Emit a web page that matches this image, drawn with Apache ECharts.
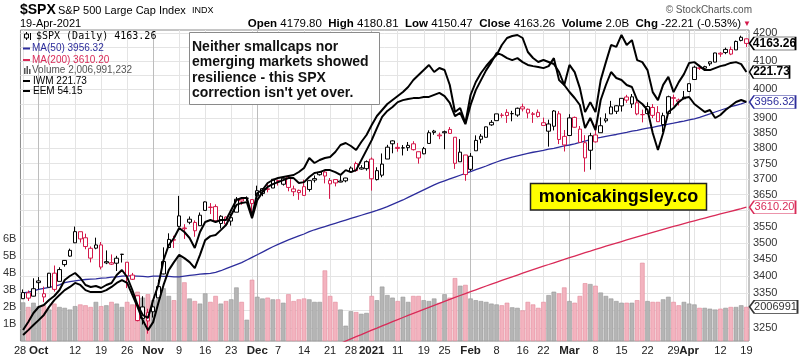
<!DOCTYPE html>
<html><head><meta charset="utf-8">
<script src="https://cdn.jsdelivr.net/npm/echarts@6/dist/echarts.min.js"></script>
<style>html,body{margin:0;padding:0;background:#fff}#c{width:803px;height:358px}</style>
</head><body><div id="c"></div>
<script>
// ---------- DATA ----------
const monthDays = [
 ['2020-09',[28,29,30]],
 ['2020-10',[1,2,5,6,7,8,9,12,13,14,15,16,19,20,21,22,23,26,27,28,29,30]],
 ['2020-11',[2,3,4,5,6,9,10,11,12,13,16,17,18,19,20,23,24,25,27,30]],
 ['2020-12',[1,2,3,4,7,8,9,10,11,14,15,16,17,18,21,22,23,24,28,29,30,31]],
 ['2021-01',[4,5,6,7,8,11,12,13,14,15,19,20,21,22,25,26,27,28,29]],
 ['2021-02',[1,2,3,4,5,8,9,10,11,12,16,17,18,19,22,23,24,25,26]],
 ['2021-03',[1,2,3,4,5,8,9,10,11,12,15,16,17,18,19,22,23,24,25,26,29,30,31]],
 ['2021-04',[1,5,6,7,8,9,12,13,14,15,16,19]]
];
const opens = [3333.90,3350.92,3341.21,3385.87,3338.94,3367.27,3408.74,3384.56,3434.28,3459.67,
3500.02,3534.01,3515.47,3453.72,3493.50,3493.66,3439.38,3439.91,3438.50,3464.90,
3441.42,3403.15,3342.48,3277.17,3293.59,
3296.20,3336.25,3406.46,3485.74,3508.34,3583.04,3543.26,3563.22,3562.67,3552.57,
3600.16,3610.31,3612.09,3559.41,3579.31,3566.82,3594.52,3635.50,3638.55,3634.18,
3645.87,3653.78,3668.28,3670.94,3694.73,3683.05,3705.98,3659.13,3656.08,3675.27,
3666.41,3696.25,3713.65,3722.39,3684.28,3698.08,3693.42,3694.03,3723.03,3750.01,
3736.19,3733.27,
3764.61,3698.02,3712.20,3764.71,3815.05,3803.14,3801.62,3802.23,3814.98,3788.73,
3781.88,3816.22,3857.46,3844.24,3851.68,3862.96,3836.83,3755.75,3778.05,
3731.17,3791.84,3840.27,3836.66,3878.30,3892.59,3910.49,3920.78,3916.40,3911.65,
3939.61,3918.50,3915.86,3921.16,3885.55,3857.07,3873.71,3915.80,3839.66,
3842.51,3903.64,3863.99,3818.53,3793.58,3844.39,3851.93,3891.99,3915.54,3924.52,
3942.96,3973.59,3949.57,3953.50,3913.14,3916.48,3937.60,3919.93,3879.34,3917.12,
3969.31,3963.34,3967.25,
3992.78,4034.44,4075.57,4074.29,4089.95,4096.11,4124.71,4130.10,4141.58,4139.76,4174.14,4179.80];
const highs = [3360.74,3357.92,3393.56,3397.18,3369.10,3409.57,3431.56,3426.26,3447.28,3482.34,
3549.85,3534.01,3527.94,3489.08,3515.76,3502.42,3476.93,3464.86,3460.53,3466.46,
3441.42,3409.51,3342.48,3341.05,3304.93,
3330.14,3389.49,3486.25,3529.05,3521.58,3645.99,3557.22,3581.16,3569.02,3593.66,
3628.51,3623.11,3619.09,3585.22,3581.23,3589.81,3642.31,3635.50,3644.31,3634.18,
3678.45,3670.96,3682.73,3699.20,3697.41,3708.45,3712.39,3678.49,3665.91,3697.61,
3695.29,3711.27,3725.12,3726.70,3702.90,3698.26,3711.24,3703.82,3740.51,3756.12,
3744.63,3760.20,
3769.99,3737.83,3783.04,3811.55,3826.69,3817.86,3810.78,3820.96,3823.60,3788.73,
3804.53,3859.75,3861.45,3852.31,3859.23,3870.90,3836.83,3830.50,3778.05,
3784.32,3843.09,3847.51,3872.42,3894.56,3915.77,3918.35,3931.50,3925.99,3937.23,
3950.43,3933.61,3921.98,3930.41,3902.92,3895.98,3928.65,3925.02,3861.08,
3914.50,3906.41,3874.47,3843.67,3851.69,3881.06,3903.76,3917.35,3960.27,3944.99,
3970.08,3981.04,3983.87,3969.62,3930.12,3955.31,3949.13,3942.08,3919.54,3978.19,
3981.83,3968.01,3994.41,
4020.63,4083.42,4086.23,4083.13,4098.19,4129.48,4131.76,4148.00,4151.69,4173.49,4191.31,4180.81];
const lows = [3332.91,3327.54,3340.47,3361.39,3323.69,3367.27,3354.54,3384.56,3428.15,3458.07,
3499.61,3500.86,3480.55,3440.89,3480.45,3419.93,3435.65,3433.06,3415.34,3440.45,
3364.86,3388.71,3268.89,3259.82,3233.94,
3279.74,3336.25,3405.17,3485.74,3484.34,3547.48,3511.91,3557.00,3518.58,3552.57,
3600.16,3588.68,3567.33,3543.84,3556.85,3552.77,3594.52,3617.76,3629.33,3594.39,
3645.87,3644.84,3657.17,3670.94,3678.88,3678.83,3660.54,3645.18,3633.40,3645.84,
3659.62,3688.57,3710.87,3685.84,3636.48,3676.16,3689.28,3689.32,3723.03,3723.31,
3730.21,3726.88,
3662.71,3695.07,3705.34,3764.71,3783.60,3789.02,3776.51,3791.50,3792.86,3749.62,
3780.37,3816.22,3845.05,3830.41,3797.16,3847.78,3732.48,3755.75,3694.12,
3725.62,3791.84,3816.68,3836.66,3874.93,3892.59,3902.64,3884.94,3890.39,3905.78,
3923.85,3900.43,3885.03,3903.07,3874.71,3805.59,3859.60,3814.04,3789.54,
3842.51,3868.57,3818.86,3723.34,3730.19,3819.25,3851.93,3885.73,3915.54,3915.21,
3923.54,3953.44,3935.74,3910.86,3886.75,3914.16,3901.57,3889.07,3853.50,3917.12,
3943.25,3944.35,3966.98,
3992.78,4034.44,4068.14,4068.31,4082.54,4095.51,4114.82,4124.43,4120.87,4139.76,4170.75,4150.47];
const closes = [3351.60,3335.47,3363.00,3380.80,3348.42,3408.60,3360.97,3419.44,3446.83,3477.14,
3534.22,3511.93,3488.67,3483.34,3483.81,3426.92,3443.12,3435.56,3453.49,3465.39,
3400.97,3390.68,3271.03,3310.11,3269.96,
3310.24,3369.16,3443.44,3510.45,3509.44,3550.50,3545.53,3572.66,3537.01,3585.15,
3626.91,3609.53,3567.79,3581.87,3557.54,3577.59,3635.41,3629.65,3638.35,3621.63,
3662.45,3669.01,3666.72,3699.12,3691.96,3702.25,3672.82,3668.10,3663.46,3647.49,
3694.62,3701.17,3722.48,3709.41,3694.92,3687.26,3690.01,3703.06,3735.36,3727.04,
3732.04,3756.07,
3700.65,3726.86,3748.14,3803.79,3824.68,3799.61,3801.19,3809.84,3795.54,3768.25,
3798.91,3851.85,3853.07,3841.47,3855.36,3849.62,3750.77,3787.38,3714.24,
3773.86,3826.31,3830.17,3871.74,3886.83,3915.59,3911.23,3909.88,3916.38,3934.83,
3932.59,3931.33,3913.97,3906.71,3876.50,3881.37,3925.43,3829.34,3811.15,
3901.82,3870.29,3819.72,3768.47,3841.94,3821.35,3875.44,3898.81,3939.34,3943.34,
3968.94,3962.71,3974.12,3915.46,3913.10,3940.59,3910.52,3889.14,3909.52,3974.54,
3971.09,3958.55,3972.89,
4019.87,4077.91,4073.94,4079.95,4097.17,4128.80,4127.99,4141.59,4124.66,4170.42,4185.47,4163.26];
// volume in billions of shares
const volumeB = [2.27,2.0,2.25,2.05,2.1,1.85,2.2,2.0,1.95,1.85,
2.05,2.15,2.1,2.0,2.3,2.05,2.1,2.3,2.2,2.0,
2.3,2.15,2.9,2.55,2.75,
2.4,2.5,3.1,2.65,2.4,5.0,3.45,2.5,2.35,2.2,
2.8,2.3,2.65,2.2,2.35,2.45,3.15,2.3,1.25,3.6,
2.6,2.5,2.55,2.45,2.45,2.25,2.75,2.35,2.45,2.5,
2.45,2.3,2.3,4.15,2.65,2.3,1.85,0.9,1.75,1.7,
1.6,1.65,
2.65,2.4,3.2,2.7,2.55,2.35,2.6,2.3,2.65,2.65,
2.4,2.35,2.5,2.25,2.75,2.55,3.7,3.25,3.3,
2.5,2.4,2.35,2.3,2.2,2.15,2.1,2.25,1.98,1.95,
1.8,2.3,2.15,1.95,2.3,2.7,2.9,2.8,3.15,
2.35,2.25,2.65,3.4,3.35,3.25,2.85,2.65,2.5,2.35,
2.25,2.25,2.25,2.4,4.6,2.35,2.3,2.3,2.45,2.6,
2.3,2.1,2.3,
2.2,2.15,1.95,1.95,1.9,1.85,1.9,1.95,2.0,2.0,2.1,2.006991232];
const ma50 = [3351,3353,3357,3361,3364,3367,3370,3374,3381,3384,
3386,3388,3390,3391,3392,3394,3395,3397,3398,3400,
3401,3401,3400,3399,3398,3400,3400,3399,3399,3398,
3398,3400,3402,3404,3406,3407,3408,3411,3416,3422,
3428,3434,3440,3448,3456,3464,3472,3480,3488,3495,
3502,3509,3515,3521,3527,3534,3540,3545,3550,3555,
3560,3565,3570,3575,3580,3585,3590,3595,3600,3606,
3612,3619,3626,3633,3641,3649,3657,3665,3673,3681,
3688,3694,3700,3706,3712,3718,3724,3730,3736,3742,
3749,3755,3761,3766,3771,3775,3779,3783,3787,3790,
3793,3797,3800,3804,3808,3811,3815,3820,3824,3829,
3833,3836,3840,3843,3846,3850,3853,3857,3860,3864,
3867,3870,3874,3877,3881,3884,3888,3891,3895,3899,
3904,3910,3916,3922,3928,3934,3940,3945,3950,3956.32];
const ma200 = [null,null,null,null,null,null,null,null,null,null,
null,null,null,null,null,null,null,null,null,null,
null,null,null,null,null,null,null,null,null,null,
null,null,null,null,null,null,null,null,null,null,
null,null,null,null,null,null,null,null,null,null,
null,null,null,null,null,null,null,null,null,null,
3200.5,3206.8,3213.0,3219.2,3225.4,3231.5,3237.7,3243.8,3249.8,3255.9,
3261.9,3267.9,3273.9,3279.8,3285.7,3291.6,3297.4,3303.2,3309.0,3314.8,
3320.5,3326.3,3331.9,3337.6,3343.2,3348.8,3354.3,3359.9,3365.4,3370.9,
3376.4,3381.9,3387.3,3392.7,3398.1,3403.3,3408.6,3413.9,3419.1,3424.3,
3429.5,3434.6,3439.8,3444.9,3450.0,3455.0,3460.0,3465.0,3470.0,3474.9,
3479.9,3484.7,3489.6,3494.4,3499.2,3504.0,3508.7,3513.4,3518.1,3522.8,
3527.4,3532.0,3536.6,3541.1,3545.6,3550.1,3554.5,3558.9,3563.3,3567.7,
3572.0,3576.3,3580.6,3584.8,3589.0,3593.2,3597.3,3601.4,3605.5,3610.20];
// overlays, in the units of their own (hidden) overlay scales
const iwm = [156.0,157.2,158.5,159.7,161.0,163.0,164.7,166.0,167.2,168.0,
169.0,168.5,167.2,166.7,166.7,166.7,167.2,168.0,169.0,169.7,
169.0,166.0,163.0,159.7,157.2,
159.2,164.0,168.5,172.2,174.2,176.0,175.2,174.2,172.7,176.0,
179.7,180.7,181.0,182.2,183.5,186.0,188.5,189.0,189.2,185.2,
189.7,191.7,193.0,193.7,194.2,194.7,195.2,195.2,194.0,194.2,
195.5,196.5,196.7,197.2,197.2,196.7,196.0,197.2,196.7,197.2,
199.7,202.2,
204.7,207.7,210.5,212.0,213.0,214.2,214.7,215.0,215.2,215.2,
215.5,215.5,216.0,216.5,215.7,214.0,210.7,211.5,208.7,
213.5,217.2,219.7,222.2,224.2,226.5,226.0,225.2,224.7,225.2,
224.2,223.5,223.2,223.0,222.7,223.2,225.2,219.7,218.5,
223.5,221.7,217.7,211.7,214.2,211.7,219.7,224.2,228.5,228.0,
231.0,228.5,229.7,224.7,224.2,222.2,216.7,214.7,218.5,220.5,
216.7,219.2,221.2,
224.0,224.2,223.2,222.2,222.2,222.7,223.2,223.5,224.0,224.2,223.7,221.73];
const eem = [42.75,43.15,43.6,43.9,44.0,44.25,44.45,44.75,45.25,45.45,
45.6,45.35,45.0,44.9,44.95,44.85,45.0,45.1,45.5,45.75,
45.4,44.75,44.0,43.5,43.35,
44.25,45.0,46.25,47.0,47.35,47.85,47.65,47.35,46.85,47.65,
48.15,48.25,48.15,48.25,48.25,48.75,49.25,49.35,49.35,48.45,
49.6,49.75,50.1,50.25,50.35,50.4,50.45,50.5,50.65,50.85,
51.35,51.1,51.25,51.35,51.4,51.65,52.0,52.1,51.95,51.75,
52.15,52.5,
53.0,53.45,53.75,54.05,54.25,54.45,54.65,54.9,55.25,55.5,
55.75,56.0,55.65,55.85,55.75,55.0,53.65,53.85,53.1,
54.5,55.15,55.6,55.95,56.25,56.5,57.0,57.35,57.45,57.5,
57.35,56.65,56.35,56.15,56.25,56.15,56.05,55.65,55.0,
54.65,54.35,54.0,52.85,53.35,52.75,54.25,55.0,55.65,55.35,
55.25,55.0,54.9,54.25,54.05,53.75,52.6,51.75,52.6,53.65,
53.85,54.15,54.35,
54.4,54.05,53.85,53.65,53.75,53.35,53.5,53.75,53.95,54.15,54.25,54.15];
const priceTicks = [3250,3300,3350,3400,3450,3500,3550,3600,3650,3700,3750,3800,3850,3900,3950,4000,4050,4100,4150,4200];
const volumeTicksB = [1,2,3,4,5,6];
const xTickLabels = [['2020-09-28','28'],['2020-10-01','Oct'],['2020-10-12','12'],['2020-10-19','19'],['2020-10-26','26'],
 ['2020-11-02','Nov'],['2020-11-09','9'],['2020-11-16','16'],['2020-11-23','23'],['2020-12-01','Dec'],['2020-12-07','7'],
 ['2020-12-14','14'],['2020-12-21','21'],['2020-12-28','28'],['2021-01-04','2021'],['2021-01-11','11'],['2021-01-19','19'],
 ['2021-01-25','25'],['2021-02-01','Feb'],['2021-02-08','8'],['2021-02-16','16'],['2021-02-22','22'],['2021-03-01','Mar'],
 ['2021-03-08','8'],['2021-03-15','15'],['2021-03-22','22'],['2021-03-29','29'],['2021-04-01','Apr'],['2021-04-12','12'],['2021-04-19','19']];
const boldTickLabels = ['Oct','Nov','Dec','2021','Feb','Mar','Apr'];
const weekLines = ['2020-09-28','2020-10-05','2020-10-12','2020-10-19','2020-10-26','2020-11-09','2020-11-16','2020-11-23','2020-11-30',
 '2020-12-07','2020-12-14','2020-12-21','2020-12-28','2021-01-11','2021-01-19','2021-01-25','2021-02-08','2021-02-16','2021-02-22',
 '2021-03-08','2021-03-15','2021-03-22','2021-03-29','2021-04-05','2021-04-12','2021-04-19'];
const monthLines = ['2020-10-01','2020-11-02','2020-12-01','2021-01-04','2021-02-01','2021-03-01','2021-04-01'];

// ---------- BUILD ----------
const dates = [];
monthDays.forEach(([m, ds]) => ds.forEach(d => dates.push(m + '-' + String(d).padStart(2,'0'))));
const N = dates.length, last = N - 1;
const labelMap = {}; xTickLabels.forEach(([d,t]) => labelMap[d] = t);
const SANS = '"Liberation Sans", Arial, Helvetica, sans-serif';
const RED = '#d5184a', BLK = '#000000', NAVY = '#2d2d9c', MA2 = '#d92b58';

const candleData = dates.map((d,i) => {
  const prev = i > 0 ? closes[i-1] : opens[i];
  const c = closes[i] >= prev ? BLK : RED;
  return {value:[opens[i], closes[i], lows[i], highs[i]],
    itemStyle:{color:'#ffffff', color0:c, borderColor:c, borderColor0:c}};
});
const volData = dates.map((d,i) => {
  const up = i === 0 ? true : closes[i] >= closes[i-1];
  return {value: volumeB[i]*1e9,
    itemStyle: up ? {color:'#b5b5b5', borderColor:'#979797', borderWidth:0.6}
                  : {color:'#f3b3bf', borderColor:'#e2899a', borderWidth:0.6}};
});

function tag(value, text, color, bold, w) {
  w = w || 46;
  return {
    silent:true, animation:false, z:30,
    symbol:'path://M0,6L5,0L50,0L50,12L5,12Z', symbolSize:[w,13], symbolKeepAspect:false,
    symbolOffset:[(749.5 - (20 + (729/N)*(last+0.5))) + w/2, 0],
    itemStyle:{color:'#fff', borderColor:color, borderWidth:1},
    label:{show:true, position:'inside', offset:[2,0], formatter:text, color:color,
      fontSize: bold ? 12 : 11, fontWeight: bold ? 'bold' : 'normal', fontFamily:SANS},
    data:[{coord:[last, value]}]
  };
}

const gridLineData = priceTicks.map(v => ({yAxis:v}))
  .concat(weekLines.map(d => ({xAxis:d, label:{show:false}, lineStyle:{color:'#e4e4e4', width:1, type:'solid'}})))
  .concat(monthLines.map(d => ({xAxis:d, label:{show:false}, lineStyle:{color:'#bdbdbd', width:1, type:'solid'}})));

const option = {
  animation:false,
  backgroundColor:'#ffffff',
  grid:{left:20, right:54, top:30, bottom:17, show:true, borderColor:'#8c8c8c', borderWidth:1},
  xAxis:[{type:'category', data:dates, boundaryGap:true,
    axisLine:{show:false}, axisTick:{show:false}, splitLine:{show:false},
    axisLabel:{interval:0, showMinLabel:true, showMaxLabel:true, hideOverlap:false,
      margin:4, fontSize:11, color:'#222', fontFamily:SANS,
      formatter:(v, i) => { const t = labelMap[v]; if (t === undefined) return '';
        if (boldTickLabels.includes(t)) return '{b|' + t + '}';
        return i === 0 ? '{f|' + t + '}' : t; },
      rich:{b:{fontWeight:'bold', fontSize:11.5, color:'#222', fontFamily:SANS},
            f:{fontSize:11, color:'#222', fontFamily:SANS, padding:[0,6,0,0]}}}}],
  yAxis:[
    {type:'log', logBase:10, min:3213.4, max:4212.1, position:'right', axisLine:{show:false}, axisTick:{show:false}, axisLabel:{show:false}, splitLine:{show:false}},
    {type:'value', min:0, max:18.29e9, interval:1e9, position:'left', axisLine:{show:false}, axisTick:{show:false}, splitLine:{show:false},
      axisLabel:{margin:4, fontSize:11, color:'#333', fontFamily:SANS, showMaxLabel:false,
        formatter:(v) => volumeTicksB.includes(Math.round(v/1e9)) && Math.abs(v/1e9 - Math.round(v/1e9)) < 1e-6 ? Math.round(v/1e9) + 'B' : ''}},
    {type:'value', min:154.48, max:232.23, show:false, scale:true},
    {type:'value', min:42.2, max:57.75, show:false, scale:true}
  ],
  series:[
    {type:'line', name:'grid', data:[], yAxisIndex:0, silent:true,
      markLine:{silent:true, z:1, animation:false, symbol:['none','none'],
        lineStyle:{color:'#e4e4e4', width:1, type:'solid'},
        label:{show:true, position:'end', distance:4, formatter:'{c}', color:'#333', fontSize:11, fontFamily:SANS},
        data:gridLineData}},
    {type:'bar', name:'Volume', data:volData, yAxisIndex:1, barCategoryGap:'12%', z:2, markPoint:tag(2006991232, '2006991', '#333', false, 48)},
    {type:'line', name:'MA(200)', data:ma200, yAxisIndex:0, symbol:'none', z:3, lineStyle:{color:MA2, width:1.3}, markPoint:tag(3610.20, '3610.20', MA2, false)},
    {type:'line', name:'MA(50)', data:ma50, yAxisIndex:0, symbol:'none', z:3, lineStyle:{color:NAVY, width:1.3}, markPoint:tag(3956.32, '3956.32', NAVY, false)},
    {type:'candlestick', name:'$SPX', data:candleData, yAxisIndex:0, barWidth:4, z:4, markPoint:tag(4163.26, '4163.26', BLK, true)},
    {type:'line', name:'IWM', data:iwm, yAxisIndex:2, symbol:'none', z:5, lineStyle:{color:'#000', width:2}, markPoint:tag(221.73, '221.73', BLK, true, 40)},
    {type:'line', name:'EEM', data:eem, yAxisIndex:3, symbol:'none', z:5, lineStyle:{color:'#000', width:2}}
  ],
  graphic:[
    {type:'text', x:20, y:10, z:50, style:{text:'$SPX', fontSize:14, fontWeight:'bold', fontFamily:SANS, fill:'#000', verticalAlign:'middle'}},
    {type:'text', x:58, y:10.5, z:50, style:{text:'S&P 500 Large Cap Index', fontSize:11, fontFamily:SANS, fill:'#000', verticalAlign:'middle'}},
    {type:'text', x:192, y:11, z:50, style:{text:'INDX', fontSize:9, fontFamily:SANS, fill:'#000', verticalAlign:'middle'}},
    {type:'text', x:20, y:24, z:50, style:{text:'19-Apr-2021', fontSize:11, fontFamily:SANS, fill:'#000', verticalAlign:'middle'}},
    {type:'text', x:752, y:10, z:50, style:{text:'© StockCharts.com', fontSize:10, fontFamily:SANS, fill:'#555', align:'right', verticalAlign:'middle'}},
    {type:'text', x:741, y:23.5, z:50, style:{text:'{b|Open} 4179.80  {b|High} 4180.81  {b|Low} 4150.47  {b|Close} 4163.26  {b|Volume} 2.0B  {b|Chg} -22.21 (-0.53%)',
      rich:{b:{fontWeight:'bold', fontSize:11.5, fontFamily:SANS, fill:'#000'}}, fontSize:11.5, fontFamily:SANS, fill:'#000', align:'right', verticalAlign:'middle'}},
    {type:'text', x:747, y:24, z:50, style:{text:'▼', fontSize:8, fontFamily:SANS, fill:RED, align:'center', verticalAlign:'middle'}},
    // legend
    {type:'line', z:50, shape:{x1:26.5, y1:32, x2:26.5, y2:40}, style:{stroke:'#000', lineWidth:1}},
    {type:'rect', z:51, shape:{x:24.5, y:34, width:4, height:4}, style:{fill:'#fff', stroke:'#000', lineWidth:1}},
    {type:'line', z:50, shape:{x1:30.5, y1:33, x2:30.5, y2:40}, style:{stroke:'#000', lineWidth:1}},
    {type:'text', x:36, y:36.5, z:50, style:{text:'$SPX (Daily) 4163.26', fontSize:10, fontFamily:'"DejaVu Sans Mono", monospace', fill:'#000', verticalAlign:'middle'}},
    {type:'line', z:50, shape:{x1:23, y1:48.5, x2:30, y2:48.5}, style:{stroke:NAVY, lineWidth:2}},
    {type:'text', x:32, y:48.5, z:50, style:{text:'MA(50) 3956.32', fontSize:10, fontFamily:SANS, fill:NAVY, verticalAlign:'middle'}},
    {type:'line', z:50, shape:{x1:23, y1:60, x2:30, y2:60}, style:{stroke:MA2, lineWidth:2}},
    {type:'text', x:32, y:60, z:50, style:{text:'MA(200) 3610.20', fontSize:10, fontFamily:SANS, fill:MA2, verticalAlign:'middle'}},
    {type:'rect', z:50, shape:{x:24, y:68, width:1.5, height:6}, style:{fill:'#555'}},
    {type:'rect', z:50, shape:{x:26.5, y:66, width:1.5, height:8}, style:{fill:'#555'}},
    {type:'rect', z:50, shape:{x:29, y:69, width:1.5, height:5}, style:{fill:'#555'}},
    {type:'text', x:32, y:70.5, z:50, style:{text:'Volume 2,006,991,232', fontSize:10, fontFamily:SANS, fill:'#555', verticalAlign:'middle'}},
    {type:'line', z:50, shape:{x1:23, y1:81, x2:30, y2:81}, style:{stroke:'#000', lineWidth:2}},
    {type:'text', x:33, y:81, z:50, style:{text:'IWM 221.73', fontSize:10, fontFamily:SANS, fill:'#000', verticalAlign:'middle'}},
    {type:'line', z:50, shape:{x1:23, y1:91, x2:30, y2:91}, style:{stroke:'#000', lineWidth:2}},
    {type:'text', x:33, y:91, z:50, style:{text:'EEM 54.15', fontSize:10, fontFamily:SANS, fill:'#000', verticalAlign:'middle'}},
    // annotation
    {type:'rect', z:60, shape:{x:189.5, y:32.5, width:190, height:72}, style:{fill:'#fff', stroke:'#8a8a8a', lineWidth:1}},
    {type:'text', x:192, y:39, z:61, style:{text:"Neither smallcaps nor\nemerging markets showed\nresilience - this SPX\ncorrection isn't yet over.",
      fontSize:14, fontWeight:'bold', fontFamily:SANS, fill:'#111', lineHeight:15.5, verticalAlign:'top'}},
    {type:'rect', z:60, shape:{x:530.5, y:183.5, width:176, height:26.5}, style:{fill:'#ffff00', stroke:'#222', lineWidth:1.5}},
    {type:'text', x:618.5, y:197, z:61, style:{text:'monicakingsley.co', fontSize:18, fontWeight:'bold', fontFamily:SANS, fill:'#000', align:'center', verticalAlign:'middle'}}
  ]
};
const chart = echarts.init(document.getElementById('c'), null, {renderer:'canvas', width:803, height:358});
chart.setOption(option);
</script></body></html>
